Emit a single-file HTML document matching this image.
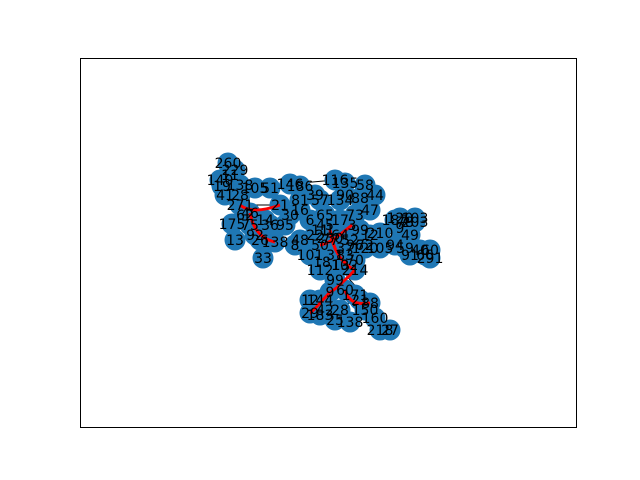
<!DOCTYPE html>
<html><head><meta charset="utf-8"><style>
body{margin:0;background:#fff;}
svg{display:block;font-family:"DejaVu Sans","Liberation Sans",sans-serif;}
</style></head><body>
<svg id="chart" width="640" height="480" viewBox="0 0 640 480">
<rect x="80.5" y="58.5" width="496" height="369" fill="#fff" stroke="#000" stroke-width="1"/>
<g id="edges"></g><g id="nodes"></g><g id="labels"></g>
</svg>
<script>
const nodeLabels=["260","229","19","138","105","51","146","186","116","135","271","46","175","13","92","26","138","8","33","21","16","57","134","88","47","3","1","50","37","120","105","18","10","214","120","103","9","49","59","40","60","291","9","60","21","88","29","42","28","138","218","27","6","95","14","210","230",
"11","77","64","52","31","83","70","45","22","99","12","17","65","73","81","39","90","58","44","30","36","28","41","62","75","48","101","112","132","99","144","171","150","160","183","12","25","72","96","187","203","66","91","94","78","11","140","157","163","198","190","170","201","24","85"];
const nodeX=[148,155,142,160,175,190,210,220,255,265,160,170,152,155,175,180,195,215,183,200,220,240,260,280,290,272,250,240,265,285,300,242,260,275,320,335,320,330,325,340,350,350,250,265,280,290,230,245,260,270,300,310,230,205,185,300,250,
240,250,260,270,255,265,275,245,235,280,290,260,245,275,220,235,265,285,295,210,190,160,145,165,170,220,230,240,265,255,240,275,285,295,240,230,255,285,275,315,335,345,330,315,325,150,140];
const nodeY=[105,112,128,127,130,130,126,128,122,125,147,155,166,182,177,182,184,187,200,147,152,142,142,140,152,167,172,187,190,190,190,204,207,212,160,160,170,177,190,192,192,200,234,232,242,245,255,252,252,264,272,272,162,167,162,175,180,
172,182,177,182,197,197,202,167,177,172,177,162,157,157,142,137,137,127,137,157,167,137,137,157,167,182,197,212,207,222,242,237,252,260,257,242,262,187,187,162,164,197,197,187,164,117,122];
const edgeFrom=[0,9,29,10,44,31,27,35,6];
const edgeTo=[2,8,36,19,47,33,45,30,8];
const redFrom=[10,42,33,25,43,11,26];
const redTo=[19,46,42,27,45,16,33];
const sx=v=>80+v, sy=v=>58+v;
const NS="http://www.w3.org/2000/svg";
const eg=document.getElementById('edges'),ng=document.getElementById('nodes'),lg=document.getElementById('labels');
edgeFrom.forEach((f,i)=>{const l=document.createElementNS(NS,'line');


l.setAttribute('x1',sx(nodeX[f]));l.setAttribute('y1',sy(nodeY[f]));l.setAttribute('x2',sx(nodeX[edgeTo[i]]));l.setAttribute('y2',sy(nodeY[edgeTo[i]]));l.setAttribute('stroke','#000');l.setAttribute('stroke-width','1');eg.appendChild(l);});
nodeX.forEach((x,i)=>{const c=document.createElementNS(NS,'circle');


c.setAttribute('cx',sx(x));c.setAttribute('cy',sy(nodeY[i]));c.setAttribute('r','10.5');c.setAttribute('fill','#1f77b4');ng.appendChild(c);});
redFrom.forEach((f,i)=>{const x1=sx(nodeX[f]),y1=sy(nodeY[f]),x2=sx(nodeX[redTo[i]]),y2=sy(nodeY[redTo[i]]);
const p=document.createElementNS(NS,'path');


p.setAttribute('d',`M${x1},${y1} Q${(x1+x2)/2-8},${(y1+y2)/2+10} ${x2},${y2}`);p.setAttribute('stroke','red');p.setAttribute('stroke-width','3');p.setAttribute('fill','none');ng.appendChild(p);});
nodeLabels.forEach((t,i)=>{const tx=document.createElementNS(NS,'text');


tx.setAttribute('x',sx(nodeX[i]));tx.setAttribute('y',sy(nodeY[i])+5);tx.setAttribute('text-anchor','middle');tx.setAttribute('font-size','14');tx.setAttribute('fill','#000');tx.textContent=t;lg.appendChild(tx);});
</script>
</body></html>
